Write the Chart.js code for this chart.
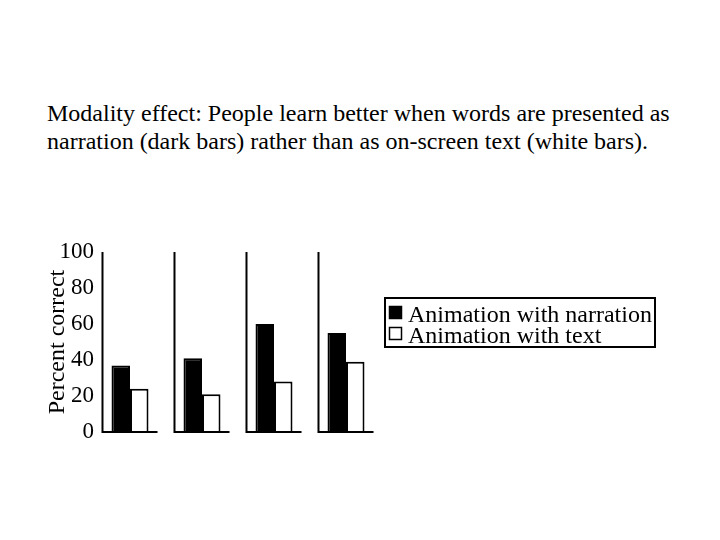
<!DOCTYPE html>
<html>
<head>
<meta charset="utf-8">
<script src="https://cdn.jsdelivr.net/npm/chart.js@4.4.1/dist/chart.umd.min.js"></script>
<style>
	body { margin: 0; background: #fff; }
	#wrap { position: relative; width: 720px; height: 540px; }
	#title {
		position: absolute; left: 47px; top: 99px;
		font-family: "Liberation Serif", "Times New Roman", serif;
		font-size: 24px; line-height: 28px; color: #000; white-space: nowrap;
	}
	canvas { position: absolute; left: 0; top: 0; }
</style>
</head>
<body>
<div id="wrap">
	<div id="title">Modality effect: People learn better when words are presented as<br>narration (dark bars) rather than as on-screen text (white bars).</div>
	<canvas id="chart" width="720" height="540"></canvas>
</div>
<script>
// Data
const groups = ['Study 1', 'Study 2', 'Study 3', 'Study 4'];
const narration = [37, 41, 60, 55];
const onScreenText = [24, 21, 28, 39];
const yTicks = [0, 20, 40, 60, 80, 100];
const seriesLabels = ['Animation with narration', 'Animation with text'];

const serif = '"Liberation Serif", "Times New Roman", serif';

// each study gets its own little L-shaped axis
const groupAxes = {
	id: 'groupAxes',
	afterDatasetsDraw(chart) {
		const { ctx, scales: { x, y } } = chart;
		const half = (x.width / groups.length) * 0.382;
		const top = y.getPixelForValue(yTicks[yTicks.length - 1]);
		const base = y.getPixelForValue(0);
		ctx.save();
		ctx.strokeStyle = '#000';
		ctx.lineWidth = 2;
		groups.forEach((g, i) => {
			const cx = x.getPixelForValue(i);
			ctx.beginPath();
			ctx.moveTo(cx - half, top);
			ctx.lineTo(cx - half, base);
			ctx.lineTo(cx + half, base);
			ctx.stroke();
		});
		ctx.restore();
	}
};

// boxed legend to the right, like the slide
const boxLegend = {
	id: 'boxLegend',
	afterDraw(chart) {
		const ctx = chart.ctx;
		ctx.save();
		ctx.lineWidth = 2;
		ctx.strokeStyle = '#000';
		ctx.strokeRect(385, 298, 270, 49);
		ctx.font = '24px ' + serif;
		ctx.textBaseline = 'alphabetic';
		chart.data.datasets.forEach((ds, i) => {
			const yy = 306 + i * 21;
			ctx.fillStyle = ds.backgroundColor;
			ctx.fillRect(389, yy, 13, 13);
			ctx.lineWidth = 1.5;
			ctx.strokeRect(389.5, yy + 0.5, 12, 12);
			ctx.fillStyle = '#000';
			ctx.fillText(ds.label, 408, 322 + i * 21);
		});
		ctx.restore();
	}
};

new Chart(document.getElementById('chart'), {
	type: 'bar',
	data: {
		labels: groups,
		datasets: [
			{
				label: seriesLabels[0],
				data: narration,
				backgroundColor: '#000',
				borderColor: '#000',
				borderWidth: 2
			},
			{
				label: seriesLabels[1],
				data: onScreenText,
				backgroundColor: '#fff',
				borderColor: '#000',
				borderWidth: 2
			}
		]
	},
	options: {
		responsive: false,
		animation: false,
		layout: { padding: { left: 0, top: 252, right: 338, bottom: 108 } },
		datasets: {
			bar: { categoryPercentage: 0.514, barPercentage: 1 }
		},
		plugins: {
			legend: { display: false },
			tooltip: { enabled: false }
		},
		scales: {
			x: { display: false },
			y: {
				min: 0,
				max: 100,
				afterBuildTicks: (scale) => { scale.ticks = yTicks.map(v => ({ value: v })); },
				afterFit: (scale) => { scale.width = 94; },
				grid: { display: false, drawTicks: false },
				border: { display: false },
				ticks: {
					color: '#000',
					padding: 0,
					font: { family: serif, size: 23 }
				},
				title: {
					display: true,
					text: 'Percent correct',
					color: '#000',
					font: { family: serif, size: 24 },
					padding: { top: 43, bottom: 0 }
				}
			}
		}
	},
	plugins: [groupAxes, boxLegend]
});
</script>
</body>
</html>
